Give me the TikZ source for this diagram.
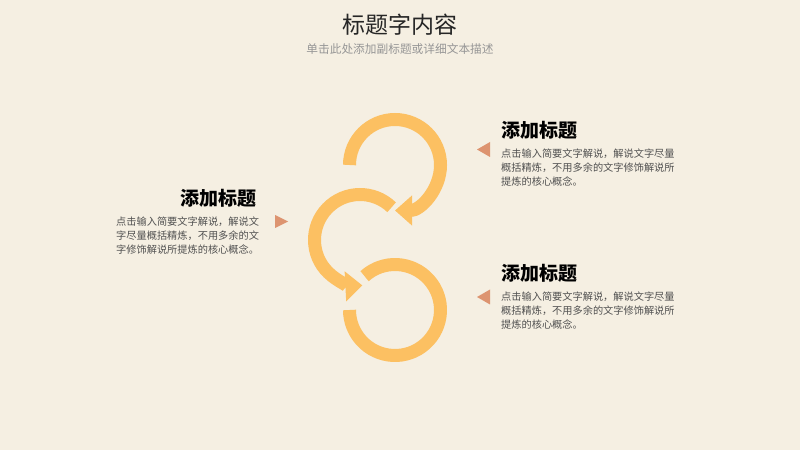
\documentclass[tikz,border=0pt]{standalone}
\usepackage{fontspec}
\setmainfont{Noto Sans CJK SC}
\newfontfamily\cjk{Noto Sans CJK SC}
\usetikzlibrary{arrows.meta}
\definecolor{bgpaper}{RGB}{245,239,226}
\definecolor{ringorange}{RGB}{252,192,98}
\definecolor{pointer}{RGB}{221,148,112}
\definecolor{bodygray}{RGB}{80,80,80}
\definecolor{subgray}{RGB}{150,150,150}
\tikzset{
  ring/.style={draw=ringorange, line width=13pt},
  ringarrow/.style={ring, -{Triangle[width=29pt,length=17pt]}},
  heading/.style={inner sep=0pt, font=\cjk\bfseries\fontsize{19pt}{22pt}\selectfont, text=black},
  bodytext/.style={inner sep=0pt, align=left, font=\cjk\fontsize{10.2pt}{14pt}\selectfont, text=bodygray},
  pointerfill/.style={fill=pointer, draw=none}
}
\begin{document}
\begin{tikzpicture}[x=1pt,y=1pt]
\fill[bgpaper] (0,0) rectangle (800,450);
\useasboundingbox (0,0) rectangle (800,450);

% title
\node[inner sep=0pt, font=\cjk\fontsize{23pt}{26pt}\selectfont, text=black!85] (title) at (400,425) {标题字内容};
\node[inner sep=0pt, font=\cjk\fontsize{11.7pt}{14pt}\selectfont, text=subgray] (subtitle) at (400,401) {单击此处添加副标题或详细文本描述};

% rings
\draw[ringarrow] (395,285) ++(180:45.5pt) arc[start angle=180, end angle=-90, radius=45.5pt];
\draw[ringarrow] (360,210) ++(46:45.5pt) arc[start angle=46, end angle=273, radius=45.5pt];
\draw[ring] (395,140) ++(132:45.5pt) arc[start angle=132, end angle=-180, radius=45.5pt];

% left block
\node[heading, anchor=east] (lh) at (257,252) {添加标题};
\node[bodytext, anchor=west] (lb) at (116,214) {点击输入简要文字解说，解说文\\字尽量概括精炼，不用多余的文\\字修饰解说所提炼的核心概念。};
\fill[pointerfill] (288,228.5) -- (275,235) -- (275,222) -- cycle;

% right block 1
\node[heading, anchor=west] (rh1) at (501,320) {添加标题};
\node[bodytext, anchor=west] (rb1) at (501,282) {点击输入简要文字解说，解说文字尽量\\概括精炼，不用多余的文字修饰解说所\\提炼的核心概念。};
\fill[pointerfill] (477,300.5) -- (490,308) -- (490,293) -- cycle;

% right block 2
\node[heading, anchor=west] (rh2) at (501,177) {添加标题};
\node[bodytext, anchor=west] (rb2) at (501,139) {点击输入简要文字解说，解说文字尽量\\概括精炼，不用多余的文字修饰解说所\\提炼的核心概念。};
\fill[pointerfill] (477,153) -- (490,160.5) -- (490,145.5) -- cycle;
\end{tikzpicture}
\end{document}
